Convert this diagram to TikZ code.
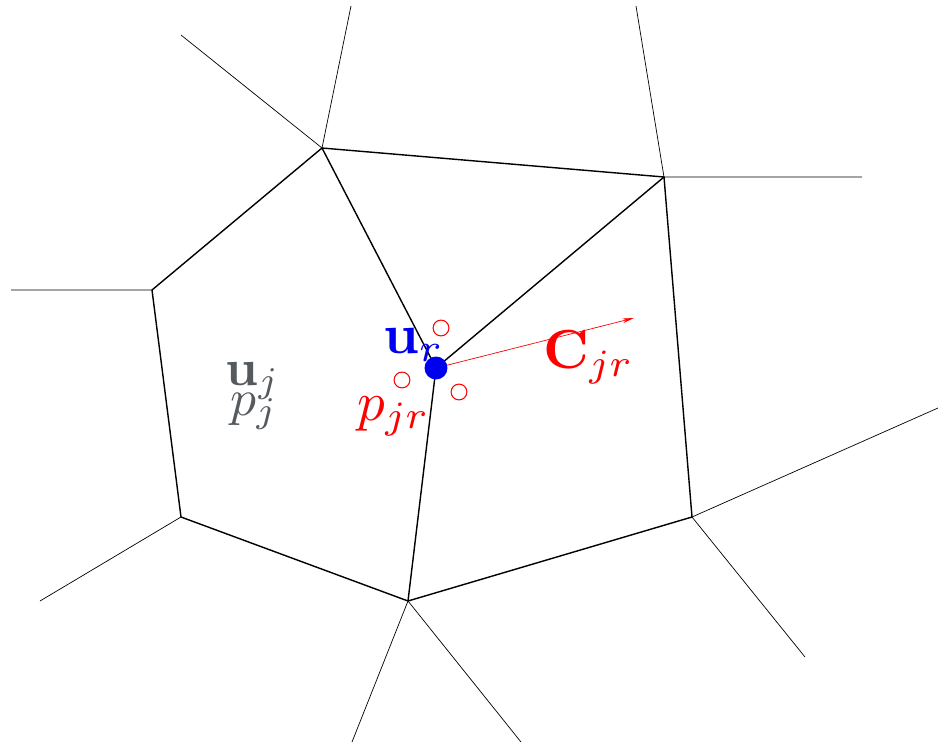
\documentclass[tikz,border=0pt]{standalone}
\usepackage{graphicx}
\usetikzlibrary{arrows.meta}
\definecolor{labgray}{RGB}{85,90,95}
\definecolor{ptblue}{RGB}{0,0,240}
\begin{document}
\begin{tikzpicture}[x=0.03cm,y=-0.03cm,
  cell/.style={line width=1.2pt,black},
  outer/.style={line width=0.6pt,black},
  hole/.style={draw=red,line width=0.9pt,circle,minimum size=13.5pt,inner sep=0pt},
  lab/.style={inner sep=0pt,anchor=base west}]
\useasboundingbox (0,0) rectangle (938,744);
% vertices
\coordinate (A) at (322,148);
\coordinate (B) at (664,177);
\coordinate (C) at (152,290);
\coordinate (R) at (436,368);
\coordinate (D) at (181,517);
\coordinate (E) at (408,601);
\coordinate (F) at (692,517);
% free ends
\coordinate (a1) at (181,35);
\coordinate (a2) at (351,6);
\coordinate (b1) at (636,6);
\coordinate (b2) at (862,177);
\coordinate (c1) at (11,290);
\coordinate (d1) at (40,601);
\coordinate (e1) at (352,742);
\coordinate (e2) at (521,742);
\coordinate (f1) at (938,408);
\coordinate (f2) at (805,657);
\coordinate (tip) at (634,318);
% outer edges
\draw[outer] (A) -- (a1) (A) -- (a2) (B) -- (b1) (B) -- (b2) (C) -- (c1)
  (D) -- (d1) (E) -- (e1) (E) -- (e2) (F) -- (f1) (F) -- (f2);
% cell edges
\draw[cell] (C) -- (A) -- (B) -- (F) -- (E) -- (D) -- cycle;
\draw[cell] (A) -- (R) -- (E);
\draw[cell] (B) -- (R);
% corner force vector
\draw[red,line width=0.6pt,-{Stealth[length=10pt,width=4pt]}] (R) -- (tip);
% small circles
\node[hole] (h1) at (441,328) {};
\node[hole] (h2) at (402,380) {};
\node[hole] (h3) at (459,392) {};
% node dot
\fill[ptblue] (R) circle[radius=9.8pt];
% labels
\node[lab,text=ptblue] (ur) at (383,353) {\scalebox{4.8}{$\mathbf{u}_r$}};
\node[lab,text=red] (cjr) at (543,368) {\scalebox{4.7}{$\mathbf{C}_{jr}$}};
\node[lab,text=red] (pjr) at (357,420) {\scalebox{4.7}{$p_{jr}$}};
\node[lab,text=labgray] (uj) at (225,385) {\scalebox{4.4}{$\mathbf{u}_j$}};
\node[lab,text=labgray] (pj) at (230,415) {\scalebox{4.4}{$p_j$}};
\end{tikzpicture}
\end{document}
